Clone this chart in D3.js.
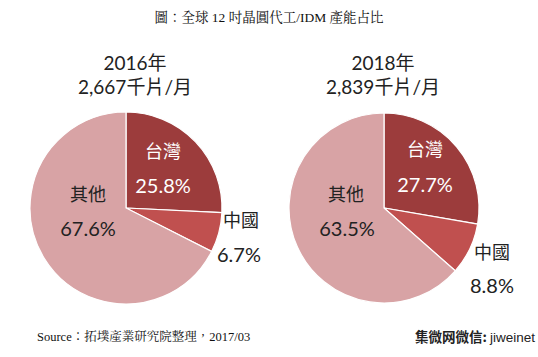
<!DOCTYPE html>
<html><head><meta charset="utf-8">
<script src="https://cdn.jsdelivr.net/npm/d3@7"></script>
<style>html,body{margin:0;padding:0;background:#fff;}svg{display:block;}</style>
</head><body>
<svg id="chart" width="538" height="357"></svg>
<script>
const categories = ["台灣", "中國", "其他"];
const values2016 = [25.8, 6.7, 67.6];
const values2018 = [27.7, 8.8, 63.5];
const years = ["2016年", "2018年"];
const capacities = ["2,667千片/月", "2,839千片/月"];
const colors = ["#9c3c3c", "#c0504f", "#d8a3a5"];

const svg = d3.select("#chart");
const sans = "'Noto Sans CJK TC','Noto Sans','DejaVu Sans',sans-serif";
const latin = "Lato,'Noto Sans CJK TC',sans-serif";
const serif = "'Liberation Serif','Noto Serif CJK TC','Noto Sans CJK TC',serif";

svg.append("text").attr("x", 269).attr("y", 22).attr("text-anchor", "middle")
  .attr("font-family", serif).attr("font-size", 13.5).attr("fill", "#111")
  .text("圖：全球 12 吋晶圓代工/IDM 產能占比");

const pies = [
  {cx: 126, cy: 208, r: 96, vals: values2016, year: years[0], cap: capacities[0], tx: 135,
   labels: [[163,150,163,185],[241,219,239,254],[88,193,88,228]]},
  {cx: 384, cy: 208, r: 95, vals: values2018, year: years[1], cap: capacities[1], tx: 383,
   labels: [[425,148,425,184],[492,251,492,285],[346,193,347,228]]}
];

const pie = d3.pie().sort(null).value(d => d);

pies.forEach(p => {
  const g = svg.append("g").attr("transform", `translate(${p.cx},${p.cy})`);
  const arc = d3.arc().innerRadius(0).outerRadius(p.r);
  g.selectAll("path").data(pie(p.vals)).join("path")
    .attr("d", arc).attr("fill", (d, i) => colors[i])
    .attr("stroke", "#fff").attr("stroke-width", 1.2);

  svg.append("text").attr("x", p.tx).attr("y", 62).attr("text-anchor", "middle")
    .attr("dominant-baseline", "central")
    .attr("font-family", latin).attr("font-size", 19).attr("fill", "#222").text(p.year);
  svg.append("text").attr("x", p.tx).attr("y", 86).attr("text-anchor", "middle")
    .attr("dominant-baseline", "central")
    .attr("font-family", latin).attr("font-size", 19).attr("fill", "#222").text(p.cap);

  p.vals.forEach((v, i) => {
    const L = p.labels[i];
    const fill = i === 0 ? "#fff" : "#222";
    svg.append("text").attr("x", L[0]).attr("y", L[1]).attr("text-anchor", "middle")
      .attr("dominant-baseline", "central")
      .attr("font-family", sans).attr("font-size", 18).attr("fill", fill).text(categories[i]);
    svg.append("text").attr("x", L[2]).attr("y", L[3]).attr("text-anchor", "middle")
      .attr("dominant-baseline", "central")
      .attr("font-family", latin).attr("font-size", 20).attr("fill", fill)
      .text(d3.format(".1f")(v) + "%");
  });
});

svg.append("text").attr("x", 37).attr("y", 341)
  .attr("font-family", serif).attr("font-size", 12.5).attr("fill", "#111")
  .text("Source：拓墣產業研究院整理，2017/03");
const wm = svg.append("text").attr("x", 535).attr("y", 342).attr("text-anchor", "end")
  .attr("font-family", sans).attr("font-size", 13.5).attr("fill", "#222");
wm.append("tspan").attr("font-weight", "bold").text("集微网微信: ");
wm.append("tspan").attr("font-family", "'Liberation Sans',Arial,sans-serif").text("jiweinet");
</script>
</body></html>
